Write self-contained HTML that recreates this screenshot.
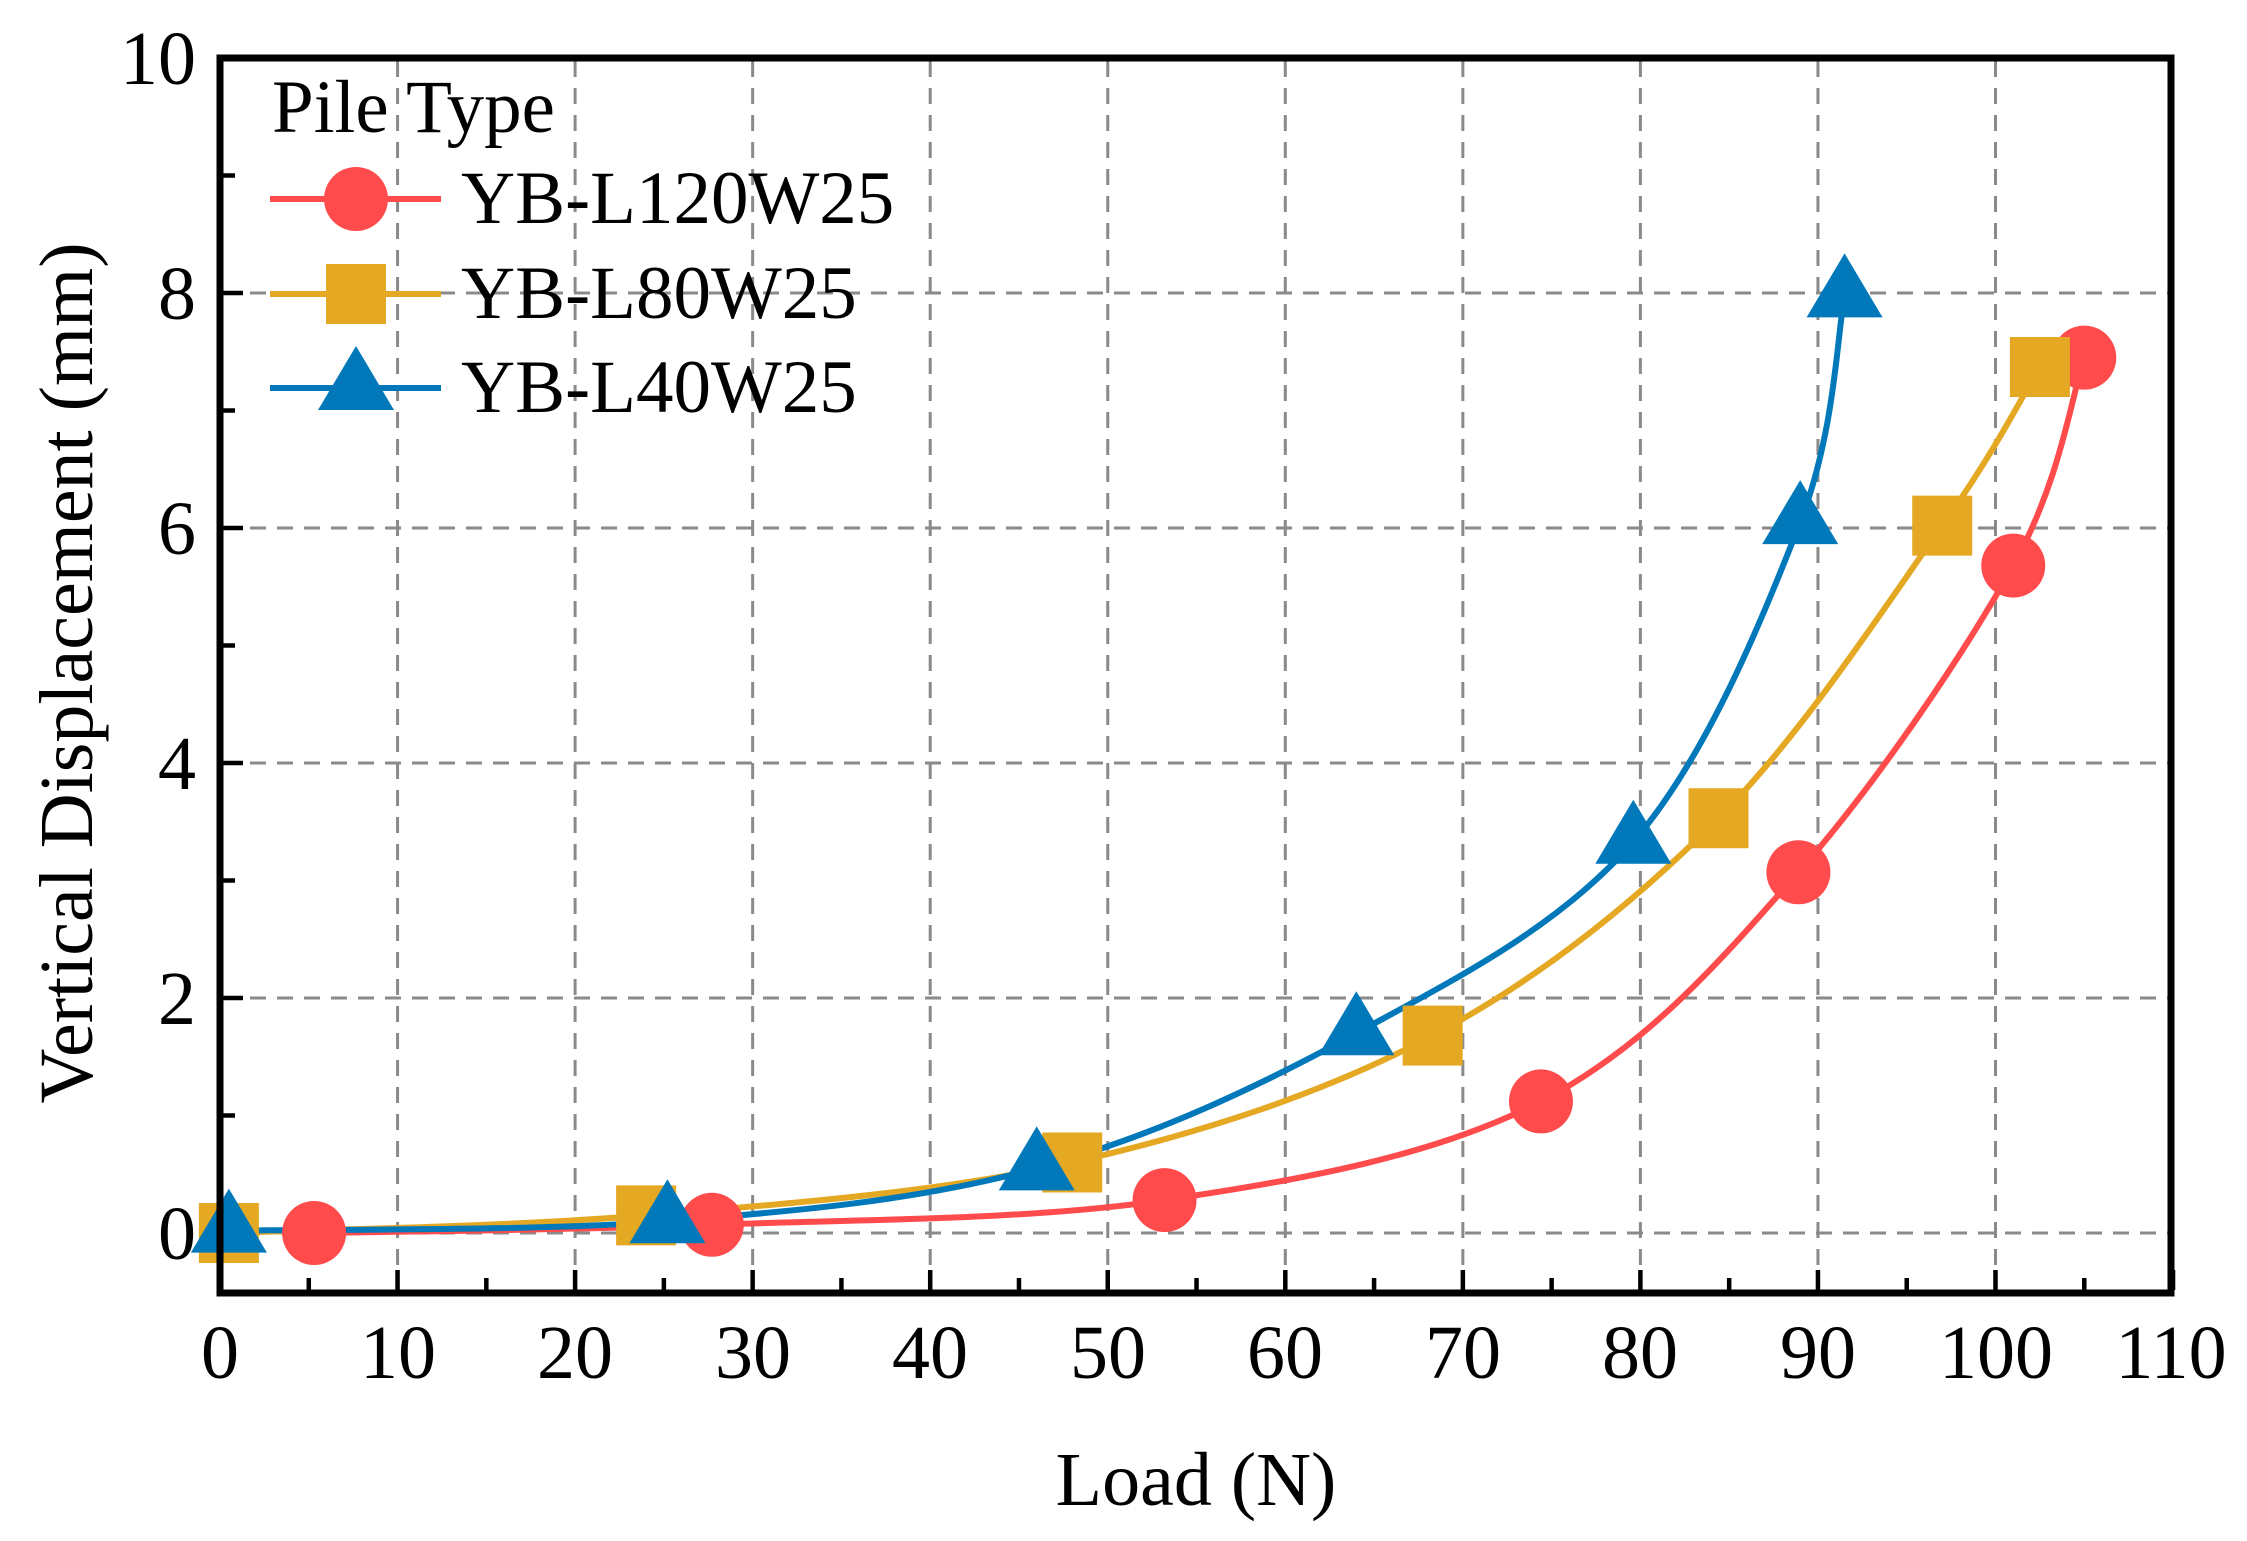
<!DOCTYPE html>
<html><head><meta charset="utf-8"><style>
html,body{margin:0;padding:0;background:#fff;}
svg{display:block;font-family:"Liberation Serif",serif;}
</style></head><body>
<svg id="s" width="2247" height="1541" viewBox="0 0 2247 1541" xmlns="http://www.w3.org/2000/svg">
<rect width="2247" height="1541" fill="#fff"/>
<g id="grid" stroke="#8a8a8a" stroke-width="3" stroke-dasharray="16,11" fill="none"></g>
<g id="ticks" stroke="#000" stroke-width="4.5"></g>
<g id="series"></g>
<rect x="220" y="58" width="1951" height="1235" fill="none" stroke="#000" stroke-width="7"/>
<g font-size="76" fill="#000" text-anchor="end">
<text x="196" y="1259">0</text><text x="196" y="1024">2</text><text x="196" y="789">4</text><text x="196" y="554">6</text><text x="196" y="319">8</text><text x="196" y="84">10</text>
</g>
<g font-size="76" fill="#000" text-anchor="middle" id="xl">
<text x="220" y="1378">0</text><text x="398" y="1378">10</text><text x="575" y="1378">20</text><text x="753" y="1378">30</text><text x="930" y="1378">40</text><text x="1108" y="1378">50</text><text x="1285" y="1378">60</text><text x="1463" y="1378">70</text><text x="1640" y="1378">80</text><text x="1818" y="1378">90</text><text x="1996" y="1378">100</text><text x="2171" y="1378">110</text>
</g>
<text x="1196" y="1505" font-size="76" text-anchor="middle">Load (N)</text>
<text transform="translate(92,673) rotate(-90)" font-size="76" text-anchor="middle">Vertical Displacement (mm)</text>
<g font-size="75">
<text x="272" y="132">Pile Type</text>
<text x="461" y="223">YB-L120W25</text>
<text x="461" y="318">YB-L80W25</text>
<text x="461" y="412">YB-L40W25</text>
</g>
<g stroke-width="6">
<line x1="270" y1="199" x2="441" y2="199" stroke="#FF4B4B"/>
<circle cx="356" cy="199" r="32" fill="#FF4B4B"/>
<line x1="270" y1="294" x2="441" y2="294" stroke="#E5A823"/>
<rect x="326" y="264" width="60" height="60" fill="#E5A823"/>
<line x1="270" y1="388" x2="441" y2="388" stroke="#0078BA"/>
<polygon points="356,346 318,410 394,410" fill="#0078BA"/>
</g>
</svg>
<script>
var NS="http://www.w3.org/2000/svg";
function X(x){return 220+17.755*x;}function Y(y){return 1233-117.5*y;}
function el(p,t,a){var e=document.createElementNS(NS,t);for(var k in a)e.setAttribute(k,a[k]);p.appendChild(e);return e;}
var g=document.getElementById('grid');
for(var i=1;i<=10;i++)el(g,'line',{x1:X(i*10),y1:61,x2:X(i*10),y2:1290});
for(var j=0;j<=8;j+=2)el(g,'line',{x1:223,y1:Y(j),x2:2168,y2:Y(j)});
var t=document.getElementById('ticks');
for(var i=0;i<=22;i++){var L=i%2?12:20;el(t,'line',{x1:X(i*5),y1:1290,x2:X(i*5),y2:1290-L});}
for(var j=0;j<=10;j++){var L=j%2?12:20;el(t,'line',{x1:223,y1:Y(j),x2:223+L,y2:Y(j)});}
var S=document.getElementById('series');
var data=[
 ["#FF4B4B","c",[[5.3,0],[27.7,0.07],[53.2,0.28],[74.4,1.12],[88.9,3.07],[101,5.68],[105,7.45]]],
 ["#E5A823","s",[[0.5,0],[24,0.15],[48,0.6],[68.3,1.68],[84.4,3.53],[97,6.02],[102.5,7.37]]],
 ["#0078BA","t",[[0.5,0.02],[25.2,0.1],[46,0.55],[64,1.7],[79.6,3.33],[89,6.05],[91.5,7.98]]]];
data.forEach(function(d){
 var p=d[2].map(function(q){return [X(q[0]),Y(q[1])];});
 var s="M"+p[0][0]+","+p[0][1];
 for(var i=0;i<p.length-1;i++){var p0=p[Math.max(0,i-1)],p1=p[i],p2=p[i+1],p3=p[Math.min(p.length-1,i+2)];
  s+=" C"+(p1[0]+(p2[0]-p0[0])/6)+","+(p1[1]+(p2[1]-p0[1])/6)+" "+(p2[0]-(p3[0]-p1[0])/6)+","+(p2[1]-(p3[1]-p1[1])/6)+" "+p2[0]+","+p2[1];}
 el(S,'path',{d:s,fill:"none",stroke:d[0],"stroke-width":6});
 d.m=p;
});
data.forEach(function(d){d.m.forEach(function(q){
 if(d[1]=="c")el(S,'circle',{cx:q[0],cy:q[1],r:32,fill:d[0]});
 else if(d[1]=="s")el(S,'rect',{x:q[0]-30,y:q[1]-30,width:60,height:60,fill:d[0]});
 else el(S,'polygon',{points:q[0]+","+(q[1]-42)+" "+(q[0]-38)+","+(q[1]+22)+" "+(q[0]+38)+","+(q[1]+22),fill:d[0]});
});});
</script>
</body></html>
